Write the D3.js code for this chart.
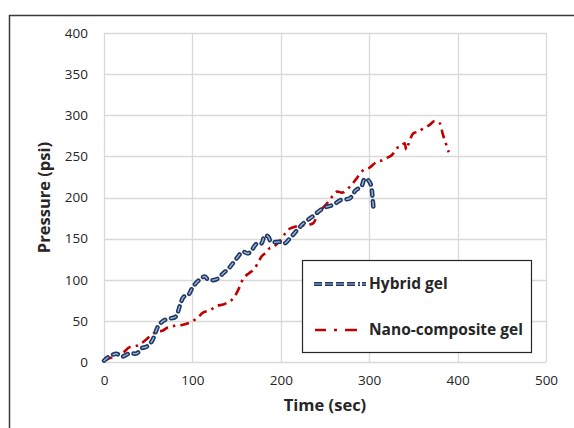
<!DOCTYPE html>
<html>
<head>
<meta charset="utf-8">
<script src="https://cdn.jsdelivr.net/npm/d3@7"></script>
<style>
  body { margin: 0; background: #fff; }
  svg { display: block; }
</style>
</head>
<body>
<script>
// data
var hybridTime = [0, 5, 14, 20, 29, 37, 43, 48, 54, 58, 61, 67, 75, 81, 86, 90, 95, 101, 108, 114, 118, 127, 135, 142, 150, 157, 163, 167, 173, 178, 182, 186, 189, 199, 204, 210, 225, 236, 248, 259, 268, 278, 285, 291, 295, 299, 302, 304, 305];
var hybridPressure = [1.5, 6, 10, 6.5, 10.5, 10.5, 17, 18.5, 25, 35, 43, 50, 53, 55, 69, 79, 81, 92, 100, 104, 100, 100.5, 108, 115, 126, 134, 132, 136, 144, 144, 154, 152, 146, 146, 144, 150, 168, 177, 187, 191, 197, 199, 209, 213, 223, 221, 215, 197, 185];

var nanoTime = [0, 5, 10, 15, 22, 29, 38, 45, 54, 60, 66, 72, 80, 88, 95, 101, 107, 112, 120, 127, 135, 141, 146, 152, 158, 164, 169, 175, 178, 183, 187, 192, 196, 201, 206, 210, 218, 225, 232, 237, 242, 250, 256, 263, 270, 278, 285, 293, 300, 308, 314, 320, 326, 331, 336, 340, 342, 346, 350, 356, 361, 368, 374, 380, 383, 386, 390];
var nanoPressure = [1.5, 4, 6, 10, 12, 18, 20, 25, 33, 37, 38, 42, 44, 45, 47, 50, 55, 60, 63, 68, 70, 73, 77, 88, 102, 108, 112, 122, 128, 133, 138, 140, 144, 150, 158, 162, 165, 166, 167, 169, 181, 190, 198, 207, 206, 213, 222, 233, 236, 243, 245, 248, 252, 260, 262, 266, 258, 270, 278, 280, 284, 288, 293, 290, 278, 268, 255];

var xTicks = [0, 100, 200, 300, 400, 500];
var yTicks = [0, 50, 100, 150, 200, 250, 300, 350, 400];
var seriesNames = ['Hybrid gel', 'Nano-composite gel'];

var width = 574, height = 428;
var plot = {left: 104, right: 546, top: 33, bottom: 362};
var font = '"Open Sans", Lato, sans-serif';

var svg = d3.select('body').append('svg')
    .attr('width', width)
    .attr('height', height);

// outer chart frame (only top and left visible)
svg.append('path')
    .attr('d', 'M9.5,' + height + 'V15.5H' + width)
    .attr('fill', 'none')
    .attr('stroke', '#3a3a3a')
    .attr('stroke-width', 1.5);

var x = d3.scaleLinear().domain([0, 500]).range([plot.left, plot.right]);
var y = d3.scaleLinear().domain([0, 400]).range([plot.bottom, plot.top]);

// gridlines
svg.append('g').selectAll('line.h')
    .data(yTicks)
    .enter().append('line')
    .attr('x1', plot.left).attr('x2', plot.right)
    .attr('y1', function (d) { return Math.round(y(d)) + 0.5; })
    .attr('y2', function (d) { return Math.round(y(d)) + 0.5; })
    .attr('stroke', '#d9d9d9').attr('stroke-width', 1.3);

svg.append('g').selectAll('line.v')
    .data(xTicks)
    .enter().append('line')
    .attr('y1', plot.top).attr('y2', plot.bottom)
    .attr('x1', function (d) { return Math.round(x(d)) + 0.5; })
    .attr('x2', function (d) { return Math.round(x(d)) + 0.5; })
    .attr('stroke', '#d9d9d9').attr('stroke-width', 1.3);

// axes (labels only, Excel style)
var xAxis = svg.append('g')
    .attr('transform', 'translate(0,' + plot.bottom + ')')
    .call(d3.axisBottom(x).tickValues(xTicks).tickSize(0).tickPadding(13));
var yAxis = svg.append('g')
    .attr('transform', 'translate(' + plot.left + ',0)')
    .call(d3.axisLeft(y).tickValues(yTicks).tickSize(0).tickPadding(16));

[xAxis, yAxis].forEach(function (a) {
    a.select('.domain').remove();
    a.selectAll('text')
        .style('font-family', font)
        .style('font-size', '13.5px')
        .attr('fill', '#262626');
});

// axis titles
svg.append('text')
    .attr('x', (plot.left + plot.right) / 2)
    .attr('y', 411)
    .attr('text-anchor', 'middle')
    .style('font-family', font)
    .style('font-size', '16.5px')
    .style('font-weight', 'bold')
    .attr('fill', '#262626')
    .text('Time (sec)');

svg.append('text')
    .attr('transform', 'translate(50,' + ((plot.top + plot.bottom) / 2) + ') rotate(-90)')
    .attr('text-anchor', 'middle')
    .style('font-family', font)
    .style('font-size', '16.5px')
    .style('font-weight', 'bold')
    .attr('fill', '#262626')
    .text('Pressure (psi)');

var line = d3.line()
    .x(function (d) { return x(d[0]); })
    .y(function (d) { return y(d[1]); })
    .curve(d3.curveCatmullRom.alpha(0.5));

var hybrid = hybridTime.map(function (t, i) { return [t, hybridPressure[i]]; });
var nano = nanoTime.map(function (t, i) { return [t, nanoPressure[i]]; });

// nano-composite gel: red dash-dot
svg.append('path')
    .datum(nano)
    .attr('d', line)
    .attr('fill', 'none')
    .attr('stroke', '#c00000')
    .attr('stroke-width', 2.6)
    .attr('stroke-dasharray', '9,5,2.5,5');

// hybrid gel: navy dashed with light core
svg.append('path')
    .datum(hybrid)
    .attr('d', line)
    .attr('fill', 'none')
    .attr('stroke', '#1f3864')
    .attr('stroke-width', 4.5)
    .attr('stroke-linecap', 'round')
    .attr('stroke-dasharray', '5,6');
svg.append('path')
    .datum(hybrid)
    .attr('d', line)
    .attr('fill', 'none')
    .attr('stroke', '#9db3d8')
    .attr('stroke-width', 1.4)
    .attr('stroke-linecap', 'round')
    .attr('stroke-dasharray', '5,6');

// legend
var legend = svg.append('g');
legend.append('rect')
    .attr('x', 302.5).attr('y', 260.5)
    .attr('width', 229).attr('height', 92)
    .attr('fill', '#fff')
    .attr('stroke', '#262626')
    .attr('stroke-width', 1.2);

var ly = [284, 330];
legend.append('line')
    .attr('x1', 314).attr('x2', 366).attr('y1', ly[0]).attr('y2', ly[0])
    .attr('stroke', '#1f3864').attr('stroke-width', 4)
    .attr('stroke-dasharray', '8,3,8,3,8,3,8,3,2,2');
legend.append('line')
    .attr('x1', 314).attr('x2', 366).attr('y1', ly[0]).attr('y2', ly[0])
    .attr('stroke', '#9db3d8').attr('stroke-width', 1.2)
    .attr('stroke-dasharray', '8,3,8,3,8,3,8,3,2,2');
legend.append('line')
    .attr('x1', 315).attr('x2', 357).attr('y1', ly[1]).attr('y2', ly[1])
    .attr('stroke', '#c00000').attr('stroke-width', 2.6)
    .attr('stroke-dasharray', '11,8,3,8,12');

legend.selectAll('text.lbl')
    .data(seriesNames)
    .enter().append('text')
    .attr('x', 369)
    .attr('y', function (d, i) { return ly[i] + 5; })
    .style('font-family', font)
    .style('font-size', '15.5px')
    .style('font-weight', 'bold')
    .attr('fill', '#262626')
    .text(function (d) { return d; });
</script>
</body>
</html>
